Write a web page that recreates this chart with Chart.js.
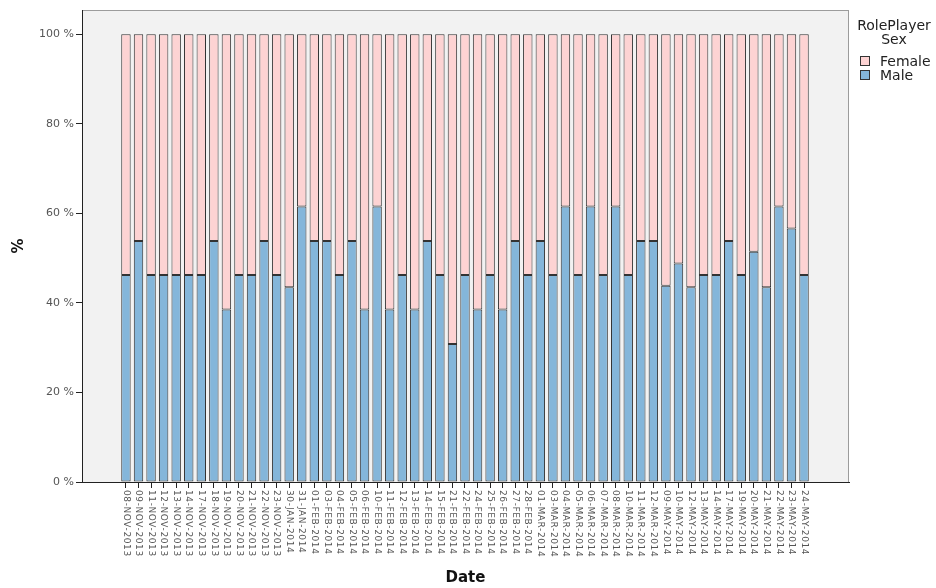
<!DOCTYPE html>
<html>
<head>
<meta charset="utf-8">
<script src="https://cdn.jsdelivr.net/npm/chart.js@4.4.1/dist/chart.umd.min.js"></script>
<style>
  html, body { margin: 0; padding: 0; background: #fff; }
  #wrap { position: relative; width: 936px; height: 588px; }
  #chart { position: absolute; left: 0; top: 0; }
  #legend { position: absolute; left: 852px; top: 19px; width: 84px; font-family: "DejaVu Sans", sans-serif; font-size: 14px; color: #222; }
  #legend .ttl { text-align: center; line-height: 13.5px; }
  #legend .item { position: relative; height: 14px; line-height: 14px; margin-top: 0; padding-left: 28px; }
  #legend .sw { position: absolute; left: 8px; top: 2px; width: 8px; height: 8px; border: 1px solid #333; }
</style>
</head>
<body>
<div id="wrap">
  <canvas id="chart" width="936" height="588"></canvas>
  <div id="legend"></div>
</div>
<script>
// datas (uma barra por dia)
const dates = [
  '08-NOV-2013','09-NOV-2013','11-NOV-2013','12-NOV-2013','13-NOV-2013','14-NOV-2013','17-NOV-2013',
  '18-NOV-2013','19-NOV-2013','20-NOV-2013','21-NOV-2013','22-NOV-2013','23-NOV-2013',
  '30-JAN-2014','31-JAN-2014',
  '01-FEB-2014','03-FEB-2014','04-FEB-2014','05-FEB-2014','06-FEB-2014','10-FEB-2014','11-FEB-2014',
  '12-FEB-2014','13-FEB-2014','14-FEB-2014','15-FEB-2014','21-FEB-2014','22-FEB-2014','24-FEB-2014',
  '25-FEB-2014','26-FEB-2014','27-FEB-2014','28-FEB-2014',
  '01-MAR-2014','03-MAR-2014','04-MAR-2014','05-MAR-2014','06-MAR-2014','07-MAR-2014','08-MAR-2014',
  '10-MAR-2014','11-MAR-2014','12-MAR-2014',
  '09-MAY-2014','10-MAY-2014','12-MAY-2014','13-MAY-2014','14-MAY-2014','17-MAY-2014','19-MAY-2014',
  '20-MAY-2014','21-MAY-2014','22-MAY-2014','23-MAY-2014','24-MAY-2014'
];

const male = [
  46.2, 53.8, 46.2, 46.2, 46.2, 46.2, 46.2, 53.8, 38.5, 46.2, 46.2, 53.8, 46.2,
  43.5, 61.5,
  53.8, 53.8, 46.2, 53.8, 38.5, 61.5, 38.5, 46.2, 38.5, 53.8, 46.2, 30.8, 46.2, 38.5,
  46.2, 38.5, 53.8, 46.2,
  53.8, 46.2, 61.5, 46.2, 61.5, 46.2, 61.5, 46.2, 53.8, 53.8,
  43.8, 48.8, 43.5, 46.2, 46.2, 53.8, 46.2, 51.4, 43.5, 61.5, 56.6, 46.2
];

const female = [
  53.8, 46.2, 53.8, 53.8, 53.8, 53.8, 53.8, 46.2, 61.5, 53.8, 53.8, 46.2, 53.8,
  56.5, 38.5,
  46.2, 46.2, 53.8, 46.2, 61.5, 38.5, 61.5, 53.8, 61.5, 46.2, 53.8, 69.2, 53.8, 61.5,
  53.8, 61.5, 46.2, 53.8,
  46.2, 53.8, 38.5, 53.8, 38.5, 53.8, 38.5, 53.8, 46.2, 46.2,
  56.2, 51.2, 56.5, 53.8, 53.8, 46.2, 53.8, 48.6, 56.5, 38.5, 43.4, 53.8
];

const yTicks = [0, 20, 40, 60, 80, 100];

const COR_FEMALE = '#fdd3d3';
const COR_MALE = '#84b6da';

// fundo cinza e moldura da área do gráfico
const frame = {
  id: 'frame',
  beforeDraw(chart){
    const {ctx, chartArea: a} = chart;
    ctx.save();
    ctx.fillStyle = '#f2f2f2';
    ctx.fillRect(a.left, a.top, a.width, a.height);
    ctx.strokeStyle = '#9c9c9c';
    ctx.lineWidth = 1;
    ctx.strokeRect(Math.round(a.left) + 0.5, Math.round(a.top) + 0.5, Math.round(a.width) - 1, Math.round(a.height));
    ctx.restore();
  }
};

// rótulos de data girados no sentido horário (lidos de cima para baixo)
const dateLabels = {
  id: 'dateLabels',
  afterDraw(chart){
    const sx = chart.scales.x;
    const ctx = chart.ctx;
    ctx.save();
    ctx.font = '9px "DejaVu Sans"';
    ctx.letterSpacing = '0.6px';
    ctx.fillStyle = '#555';
    ctx.textAlign = 'left';
    ctx.textBaseline = 'middle';
    sx.ticks.forEach(t => {
      ctx.save();
      ctx.translate(sx.getPixelForValue(t.value), sx.top + 8);
      ctx.rotate(Math.PI / 2);
      ctx.fillText(dates[t.value], 0, 0);
      ctx.restore();
    });
    ctx.restore();
  }
};

const ctx = document.getElementById('chart').getContext('2d');

new Chart(ctx, {
  type: 'bar',
  data: {
    datasets: [
      {
        label: 'Male',
        data: male.map((v, i) => ({x: i, y: v})),
        backgroundColor: COR_MALE,
        borderColor: '#333',
        borderWidth: 1,
        borderSkipped: false,
        barPercentage: 0.75,
        categoryPercentage: 1
      },
      {
        label: 'Female',
        data: female.map((v, i) => ({x: i, y: v})),
        backgroundColor: COR_FEMALE,
        borderColor: '#333',
        borderWidth: 1,
        borderSkipped: false,
        barPercentage: 0.75,
        categoryPercentage: 1
      }
    ]
  },
  options: {
    responsive: false,
    animation: false,
    devicePixelRatio: 1,
    layout: { padding: { top: 10, right: 87, bottom: 0, left: 0 } },
    plugins: {
      legend: { display: false },
      tooltip: { enabled: false }
    },
    scales: {
      x: {
        type: 'linear',
        stacked: true,
        offset: false,
        min: -3.5,
        max: 57.58,
        afterFit: s => { s.height = 106; },
        afterBuildTicks: s => {
          s.ticks = dates.map((_, i) => ({value: i}));
        },
        grid: { display: true, offset: false, drawOnChartArea: false, drawTicks: true, tickLength: 6, tickColor: '#222' },
        border: { display: true, color: '#222', width: 1 },
        ticks: { display: false, autoSkip: false },
        title: {
          display: true,
          text: 'Date',
          color: '#111',
          font: { family: 'DejaVu Sans', size: 15, weight: 'bold' },
          padding: { top: 0, bottom: 1 }
        }
      },
      y: {
        stacked: true,
        min: 0,
        max: 105.4,
        afterFit: s => { s.width = 82; },
        afterBuildTicks: s => {
          s.ticks = yTicks.map(v => ({value: v}));
        },
        grid: { drawOnChartArea: false, drawTicks: true, tickLength: 6, tickColor: '#222' },
        border: { display: true, color: '#222', width: 1 },
        ticks: {
          padding: 2,
          color: '#555',
          font: { family: 'DejaVu Sans', size: 11 },
          callback: v => v + ' %'
        },
        title: {
          display: true,
          text: '%',
          color: '#111',
          font: { family: 'DejaVu Sans', size: 15, weight: 'bold' },
          padding: { top: 10, bottom: 0 }
        }
      }
    }
  },
  plugins: [frame, dateLabels]
});

// legenda (Female em cima, como no original)
function renderLegend(){
  const el = document.getElementById('legend');
  const itens = [['Female', COR_FEMALE], ['Male', COR_MALE]];
  let html = '<div class="ttl">RolePlayer<br>Sex</div><div style="height:8px"></div>';
  itens.forEach(([nome, cor]) => {
    html += `<div class="item"><span class="sw" style="background:${cor}"></span>${nome}</div>`;
  });
  el.innerHTML = html;
}
renderLegend();
</script>
</body>
</html>
